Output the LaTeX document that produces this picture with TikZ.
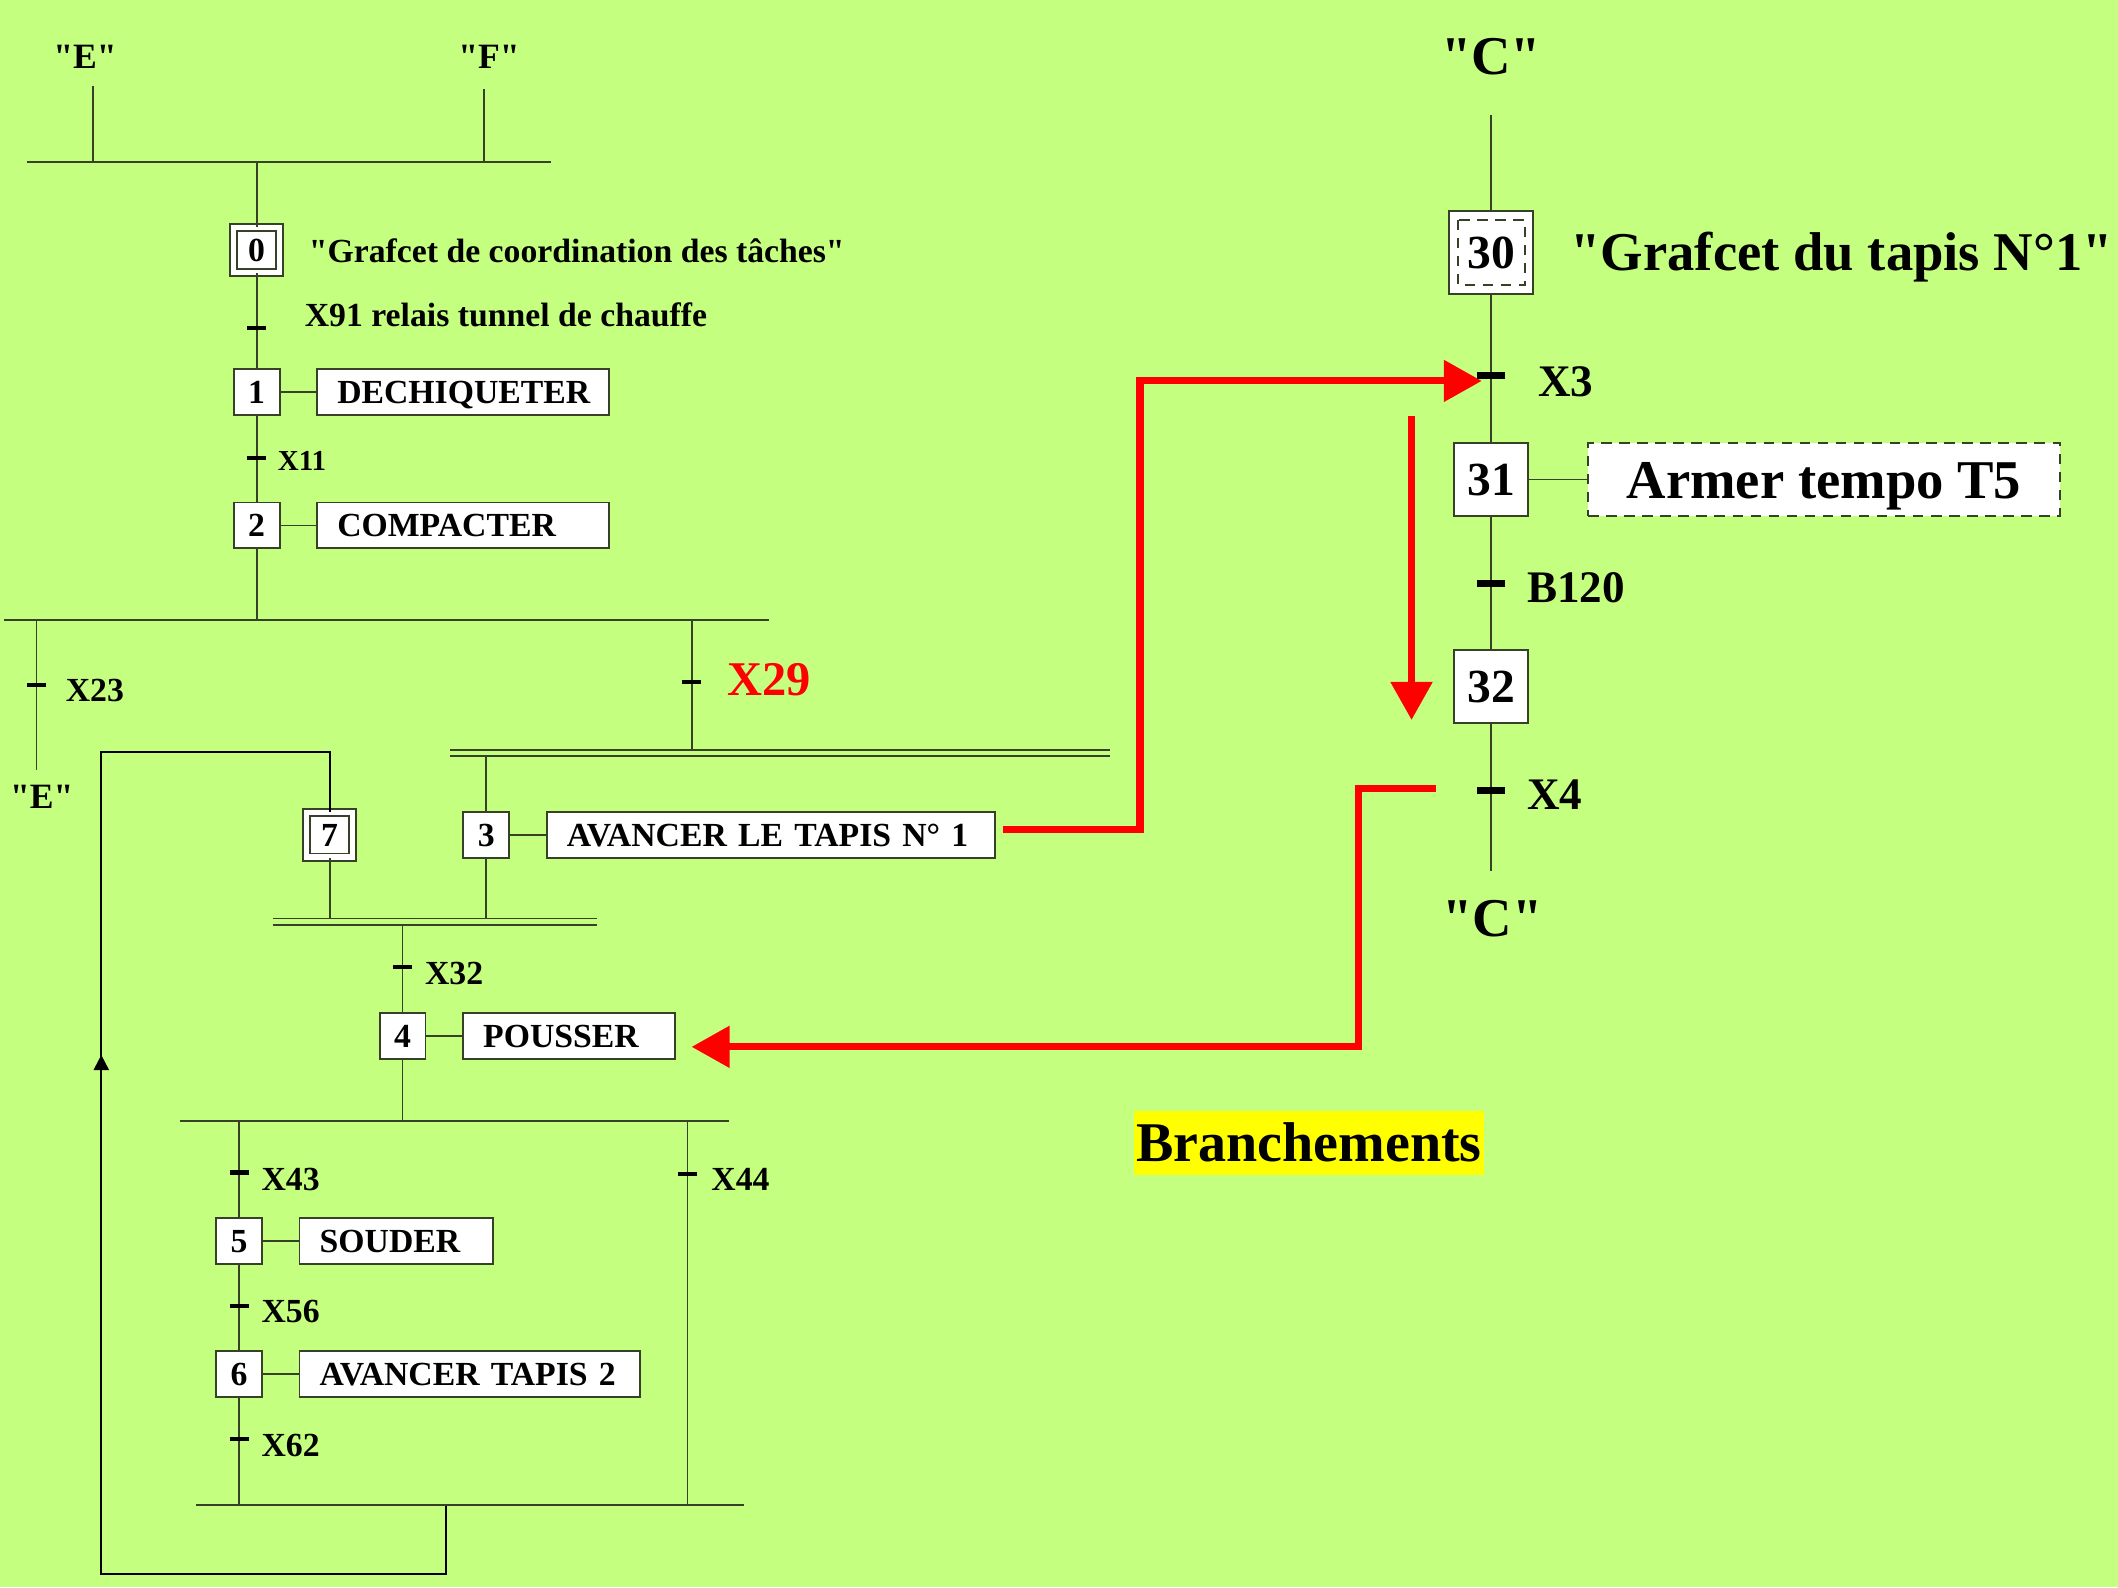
\documentclass[tikz,border=0pt]{standalone}
\usepackage{fontspec}
\setmainfont{Liberation Serif}[Ligatures=TeXOff]
\usetikzlibrary{arrows.meta}
\definecolor{bg}{RGB}{197,255,128}
\definecolor{ln}{RGB}{55,65,40}
\definecolor{rd}{RGB}{255,0,0}
\definecolor{yl}{RGB}{255,255,0}
\begin{document}
\begin{tikzpicture}[x=0.01cm,y=-0.01cm,
  lk/.style={draw=ln,line width=0.4pt},
  fa/.style={font=\bfseries\fontsize{7.1}{8.5}\selectfont},
  fs/.style={font=\bfseries\fontsize{6.1}{7.5}\selectfont},
  fe/.style={font=\bfseries\fontsize{7.5}{9}\selectfont},
  fb/.style={font=\bfseries\fontsize{9.5}{11}\selectfont},
  fc/.style={font=\bfseries\fontsize{11.5}{13}\selectfont},
  stp/.style={draw=ln,fill=white,line width=0.4pt,minimum width=0.34cm,minimum height=0.34cm,inner sep=0,fa,text height=4.8pt,text depth=0pt},
  init/.style={stp,double=white,double distance=1.1pt,minimum width=0.34cm,minimum height=0.33cm},
  bstp/.style={stp,minimum width=0.55cm,minimum height=0.54cm,font=\bfseries\fontsize{10}{12}\selectfont,text height=6.8pt,text depth=0pt},
  act/.style={draw=ln,fill=white,line width=0.4pt,anchor=west,minimum height=0.34cm,inner xsep=0.15cm,inner ysep=0,align=left,fa,text height=4.8pt,text depth=0pt},
  lbl/.style={anchor=west,inner sep=0,fa},
  tk/.style={rectangle,fill=black,inner sep=0,minimum width=0.14cm,minimum height=0.03cm},
  tkb/.style={rectangle,fill=black,inner sep=0,minimum width=0.21cm,minimum height=0.05cm},
  rarr/.style={draw=rd,line width=1.5pt,-{Triangle[length=8pt,width=8.5pt]}},
]
\fill[bg] (0,0) rectangle (1568,1175);
\useasboundingbox (0,0) rectangle (1568,1175);

% ---------- top left ----------
\node[fe,inner sep=0] (lE) at (63,42) {"E"};
\node[fe,inner sep=0] (lF) at (362,42) {"F"};
\coordinate (e1) at (69,64);  \coordinate (e2) at (69,120);
\coordinate (f1) at (358,66); \coordinate (f2) at (358,120);
\coordinate (b0l) at (20,120); \coordinate (b0r) at (408,120);
\coordinate (b0m) at (190,120);
\draw[lk] (e1) -- (e2); \draw[lk] (f1) -- (f2);
\draw[lk] (b0l) -- (b0r);

\node[init] (s0) at (190,185) {0};
\node[lbl] (g0) at (228,186) {"Grafcet de coordination des tâches"};
\node[stp] (s1) at (190,290) {1};
\node[act,text width=1.86cm] (a1) at (234,290) {DECHIQUETER};
\node[stp] (s2) at (190,389) {2};
\node[act,text width=1.86cm] (a2) at (234,389) {COMPACTER};
\draw[lk] (b0m) -- (s0);
\draw[lk] (s0) -- (s1);
\draw[lk] (s1) -- (s2);
\draw[lk] (s1) -- (a1);
\draw[lk] (s2) -- (a2);
\node[tk] (t01) at (190,243) {};
\node[lbl] (x91) at (225,233) {X91 relais tunnel de chauffe};
\node[tk] (t12) at (190,339) {};
\node[lbl,fs] (x11) at (205,341) {X11};

% divergence OR
\coordinate (b1l) at (3,459); \coordinate (b1r) at (569,459);
\coordinate (b1m) at (190,459);
\draw[lk] (b1l) -- (b1r);
\draw[lk] (s2) -- (b1m);
\coordinate (l1) at (27,459); \coordinate (l2) at (27,570);
\draw[lk] (l1) -- (l2);
\node[tk] (t23) at (27,507) {};
\node[lbl] (x23) at (48,511) {X23};
\node[fe,inner sep=0] (lE2) at (31,590) {"E"};
\coordinate (r1) at (512,459); \coordinate (r2) at (512,555);
\draw[lk] (r1) -- (r2);
\node[tk] (t29) at (512,505) {};
\node[lbl,font=\bfseries\fontsize{10.2}{12}\selectfont,text=rd] (x29) at (538,503) {X29};

% AND divergence
\coordinate (d1l) at (333,555); \coordinate (d1r) at (822,555);
\coordinate (d2l) at (333,560); \coordinate (d2r) at (822,560);
\draw[lk] (d1l) -- (d1r); \draw[lk] (d2l) -- (d2r);
\node[stp] (s3) at (360,618) {3};
\node[act,text width=3.02cm] (a3) at (404,618) {AVANCER LE TAPIS N° 1};
\coordinate (d3) at (360,560);
\draw[lk] (d3) -- (s3);
\draw[lk] (s3) -- (a3);

\node[init] (s7) at (244,618) {7};
\coordinate (p1) at (330,1114); \coordinate (p2) at (330,1165);
\coordinate (p3) at (75,1165); \coordinate (p4) at (75,557);
\coordinate (p5) at (244,557);
\draw[draw=black,line width=0.4pt] (p1) -- (p2) -- (p3) -- (p4) -- (p5) -- (s7);
\coordinate (ar1) at (75,800); \coordinate (ar2) at (75,781);
\draw[draw=black,line width=0.4pt,-{Triangle[length=3.2pt,width=3.2pt]}] (ar1) -- (ar2);

% AND convergence
\coordinate (c1l) at (202,680); \coordinate (c1r) at (442,680);
\coordinate (c2l) at (202,685); \coordinate (c2r) at (442,685);
\draw[lk] (c1l) -- (c1r); \draw[lk] (c2l) -- (c2r);
\coordinate (c7) at (244,680); \coordinate (c3) at (360,680);
\draw[lk] (s7) -- (c7); \draw[lk] (s3) -- (c3);
\coordinate (c4) at (298,685);
\node[stp] (s4) at (298,767) {4};
\node[act,text width=1.27cm] (a4) at (342,767) {POUSSER};
\draw[lk] (c4) -- (s4);
\draw[lk] (s4) -- (a4);
\node[tk] (t34) at (298,716) {};
\node[lbl] (x32) at (314,721) {X32};

% OR divergence 2
\coordinate (b2l) at (133,830); \coordinate (b2r) at (540,830);
\coordinate (b2m) at (298,830);
\draw[lk] (b2l) -- (b2r);
\draw[lk] (s4) -- (b2m);
\coordinate (q1) at (177,830);
\node[stp] (s5) at (177,919) {5};
\node[act,text width=1.13cm] (a5) at (221,919) {SOUDER};
\node[stp] (s6) at (177,1017) {6};
\node[act,text width=2.22cm] (a6) at (221,1017) {AVANCER TAPIS 2};
\coordinate (q2) at (177,1114);
\draw[lk] (q1) -- (s5);
\draw[lk] (s5) -- (s6);
\draw[lk] (s6) -- (q2);
\draw[lk] (s5) -- (a5);
\draw[lk] (s6) -- (a6);
\node[tk] (t43) at (177,868) {};
\node[lbl] (x43) at (193,873) {X43};
\node[tk] (t56) at (177,967) {};
\node[lbl] (x56) at (193,971) {X56};
\node[tk] (t62) at (177,1065) {};
\node[lbl] (x62) at (193,1070) {X62};
\coordinate (w1) at (509,830); \coordinate (w2) at (509,1114);
\draw[lk] (w1) -- (w2);
\node[tk] (t44) at (509,869) {};
\node[lbl] (x44) at (526,873) {X44};
\coordinate (b3l) at (145,1114); \coordinate (b3r) at (551,1114);
\draw[lk] (b3l) -- (b3r);

% ---------- right grafcet ----------
\node[fc,inner sep=0] (lC1) at (1104,42) {"C"};
\coordinate (k0) at (1104,85);
\node[stp,minimum width=0.62cm,minimum height=0.61cm,font=\bfseries\fontsize{10}{12}\selectfont,text height=6.8pt,text depth=0pt] (s30) at (1104,187) {30};
\draw[ln,dashed,line width=0.4pt,dash pattern=on 2.2pt off 1.6pt] ([shift={(7,7)}]s30.north west) rectangle ([shift={(-7,-7)}]s30.south east);
\node[lbl,fc] (g1) at (1162,190) {"Grafcet du tapis N°1"};
\node[bstp] (s31) at (1104,355) {31};
\node[act,dashed,dash pattern=on 2.2pt off 1.6pt,minimum width=3.49cm,minimum height=0.54cm,align=center,inner xsep=0,fc,text height=7.8pt,text depth=0pt] (a31) at (1175,355) {Armer tempo T5};
\node[bstp] (s32) at (1104,508) {32};
\coordinate (k9) at (1104,645);
\draw[lk] (k0) -- (s30);
\draw[lk] (s30) -- (s31);
\draw[lk] (s31) -- (s32);
\draw[lk] (s32) -- (k9);
\draw[lk] (s31) -- (a31);
\node[tkb] (t3) at (1104,278) {};
\node[lbl,fb] (x3) at (1138,283) {X3};
\node[tkb] (t120) at (1104,432) {};
\node[lbl,fb] (b120) at (1130,435) {B120};
\node[tkb] (t4) at (1104,585) {};
\node[lbl,fb] (x4) at (1130,588) {X4};
\node[fc,inner sep=0] (lC2) at (1105,680) {"C"};

% ---------- red links ----------
\coordinate (m1) at (844,614); \coordinate (m2) at (844,282);
\coordinate (m3) at (1097,282);
\draw[rarr] ([xshift=0.05cm]a3.east |- m1) -- (m1) -- (m2) -- (m3);
\coordinate (n1) at (1045,308); \coordinate (n2) at (1045,533);
\draw[rarr] (n1) -- (n2);
\coordinate (o1) at (1063,584); \coordinate (o2) at (1006,584);
\coordinate (o3) at (1006,775); \coordinate (o4) at (512,775);
\draw[rarr] (o1) -- (o2) -- (o3) -- (o4);

\node[fill=yl,minimum width=2.59cm,minimum height=0.47cm,inner sep=0,fc,font=\bfseries\fontsize{11.8}{13}\selectfont] (br) at (969,846) {Branchements};
\end{tikzpicture}
\end{document}
